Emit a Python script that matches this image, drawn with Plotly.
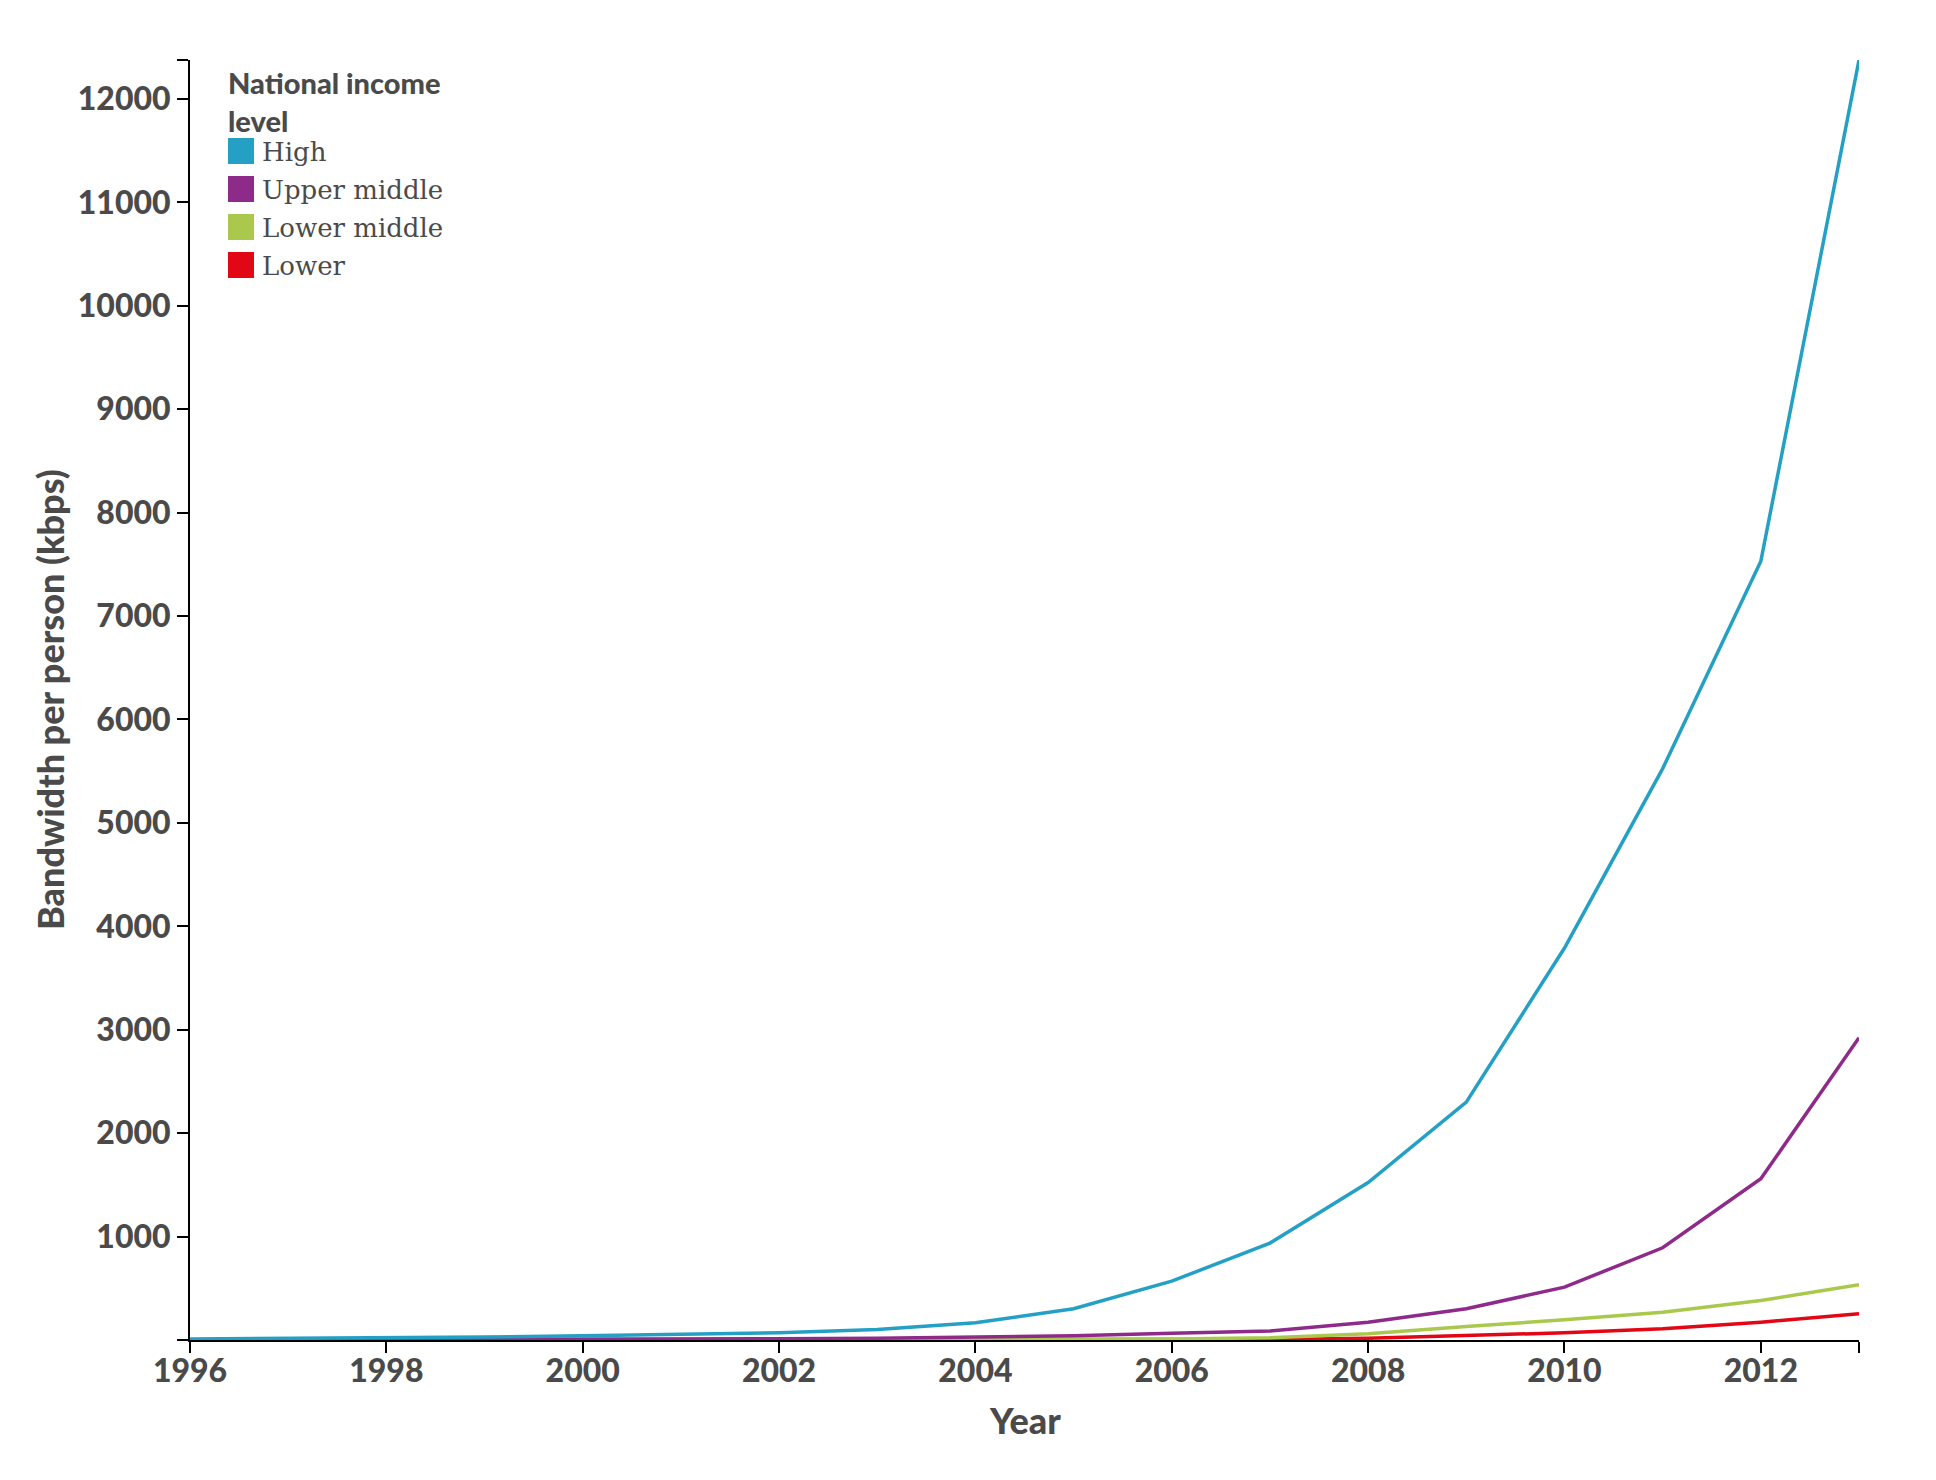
import plotly.graph_objects as go

years = list(range(1996, 2014))
high = [10, 14, 20, 28, 40, 52, 70, 101, 166, 302, 569, 937, 1522, 2300, 3790, 5525, 7530, 12377]
upper_middle = [1, 2, 3, 4, 6, 8, 12, 18, 27, 40, 66, 86, 172, 302, 511, 892, 1559, 2923]
lower_middle = [0.3, 0.5, 0.8, 1, 1.5, 2, 2.5, 3.5, 4.5, 6, 9, 22, 60, 131, 195, 269, 382, 534]
lower = [0.1, 0.2, 0.3, 0.4, 0.5, 0.7, 0.9, 1.2, 1.6, 2.2, 3, 6, 17, 44, 70, 108, 172, 253]

series_names = ["High", "Upper middle", "Lower middle", "Lower"]
series_values = [high, upper_middle, lower_middle, lower]
series_colors = ["#24a0c5", "#8e2a8a", "#aac94c", "#e20714"]

x_tickvals = [1996, 1998, 2000, 2002, 2004, 2006, 2008, 2010, 2012, 2013]
x_ticktext = ["1996", "1998", "2000", "2002", "2004", "2006", "2008", "2010", "2012", ""]
y_max = max(high)
y_tickvals = [0] + list(range(1000, 13000, 1000)) + [y_max]
y_ticktext = [""] + [str(v) for v in range(1000, 13000, 1000)] + [""]

TXT = "#4a4a4a"
SANS = "Lato, 'Open Sans', sans-serif"
SERIF = "'DejaVu Serif', serif"

fig = go.Figure()
# draw lowest first so High sits on top
for name, vals, col in reversed(list(zip(series_names, series_values, series_colors))):
    fig.add_trace(go.Scatter(x=years, y=vals, mode="lines", name=name,
                             line=dict(color=col, width=3.5), showlegend=False,
                             hoverinfo="x+y+name"))

axis_common = dict(showline=True, linecolor="black", linewidth=2, ticks="outside",
                   ticklen=11, tickwidth=2, tickcolor="black", showgrid=False,
                   zeroline=False,
                   tickfont=dict(family=SANS, size=32, color=TXT, weight=900))

fig.update_xaxes(range=[1996, 2013], tickmode="array", tickvals=x_tickvals,
                 ticktext=x_ticktext, ticklabelstandoff=-9, **axis_common)
fig.update_yaxes(range=[0, y_max], tickmode="array", tickvals=y_tickvals,
                 ticktext=y_ticktext, **axis_common)

annotations = []
shapes = []
# legend title (one text block, two lines)
title_font = dict(family=SANS, size=29, color=TXT, weight=900)
annotations.append(dict(text="National income<br>level", xref="paper", yref="paper",
                        x=0, y=1, xanchor="left", yanchor="middle", align="left",
                        xshift=36, yshift=-41, showarrow=False, font=title_font))
for i, (name, col) in enumerate(zip(series_names, series_colors)):
    top = -78 - 38 * i
    shapes.append(dict(type="rect", xref="paper", yref="paper", xsizemode="pixel",
                       ysizemode="pixel", xanchor=0, yanchor=1, x0=38, x1=64,
                       y0=top, y1=top - 26, fillcolor=col, line=dict(width=0)))
    annotations.append(dict(text=name, xref="paper", yref="paper", x=0, y=1,
                            xanchor="left", yanchor="middle", xshift=70, yshift=top - 14,
                            showarrow=False, font=dict(family=SERIF, size=26, color=TXT)))

# axis titles
axis_title_font = dict(family=SANS, size=36, color=TXT, weight=900)
annotations.append(dict(text="Year", xref="paper", yref="paper", x=0.5, y=0,
                        xanchor="center", yanchor="middle", yshift=-80, showarrow=False,
                        font=axis_title_font))
annotations.append(dict(text="Bandwidth per person (kbps)", xref="paper", yref="paper",
                        x=0, y=0.5, xanchor="center", yanchor="middle", xshift=-140,
                        textangle=-90, showarrow=False, font=axis_title_font))

fig.update_layout(width=1936, height=1480, margin=dict(l=182, r=85, t=52, b=148),
                  paper_bgcolor="white", plot_bgcolor="white",
                  annotations=annotations, shapes=shapes, showlegend=False)

fig.write_html("out.html")
